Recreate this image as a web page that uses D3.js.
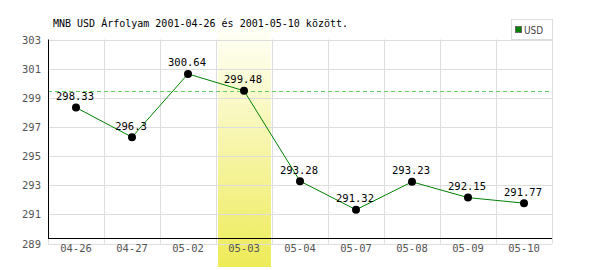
<!DOCTYPE html>
<html><head><meta charset="utf-8">
<script src="https://cdn.jsdelivr.net/npm/d3@7"></script>
<style>body{margin:0;background:#fff}</style>
</head><body>
<svg id="c" width="600" height="270"></svg>
<script>
const categories = ["04-26","04-27","05-02","05-03","05-04","05-07","05-08","05-09","05-10"];
const values = [298.33, 296.3, 300.64, 299.48, 293.28, 291.32, 293.23, 292.15, 291.77];
const labels = ["298.33","296.3","300.64","299.48","293.28","291.32","293.23","292.15","291.77"];
const yTicks = [289, 291, 293, 295, 297, 299, 301, 303];
const refValue = 299.5;
const highlightCategory = "05-03";
const title = "MNB USD Árfolyam 2001-04-26 és 2001-05-10 között.";
const seriesName = "USD";

(function () {
const svg = d3.select("#c");
const mono = "'DejaVu Sans Mono', monospace";
const pLeft = 48, pRight = 552, pTop = 39.5, pBottom = 243.5, axisY = 238.5;

const x = d3.scaleBand().domain(categories).range([pLeft, pRight]);
const y = d3.scaleLinear().domain([289, 303]).range([pBottom, pTop]);

const defs = svg.append("defs");
const g = defs.append("linearGradient").attr("id","hl").attr("x1",0).attr("y1",0).attr("x2",0).attr("y2",1);
g.append("stop").attr("offset","0%").attr("stop-color","#fffff8");
g.append("stop").attr("offset","100%").attr("stop-color","#eeeb58");

svg.append("rect")
  .attr("x", x(highlightCategory) + 2).attr("y", 28)
  .attr("width", x.bandwidth() - 3).attr("height", 239)
  .attr("fill", "url(#hl)");

svg.append("g").selectAll("line").data(yTicks).join("line")
  .attr("x1", pLeft).attr("x2", pRight)
  .attr("y1", d => Math.round(y(d)) + 0.5).attr("y2", d => Math.round(y(d)) + 0.5)
  .attr("stroke", "#dddddd");
const vx = categories.map(c => x(c) + x.bandwidth()).concat([pLeft]);
svg.append("g").selectAll("line").data(vx).join("line")
  .attr("x1", d => Math.round(d) + 0.5).attr("x2", d => Math.round(d) + 0.5)
  .attr("y1", pTop).attr("y2", pBottom)
  .attr("stroke", "#dddddd");

svg.append("line")
  .attr("x1", pLeft).attr("x2", pRight)
  .attr("y1", Math.round(y(refValue)) + 0.5).attr("y2", Math.round(y(refValue)) + 0.5)
  .attr("stroke", "#66cc66").attr("stroke-dasharray", "4,3");

svg.append("line").attr("x1", pLeft + 0.5).attr("x2", pLeft + 0.5).attr("y1", pTop).attr("y2", axisY)
  .attr("stroke", "#000");
svg.append("line").attr("x1", pLeft).attr("x2", pRight).attr("y1", axisY).attr("y2", axisY)
  .attr("stroke", "#000");

svg.append("g").selectAll("text").data(yTicks).join("text")
  .attr("x", 41).attr("y", d => y(d) + 4)
  .attr("text-anchor", "end").attr("font-family", mono).attr("font-size", 10.5)
  .attr("fill", "#555").text(d => d);

svg.append("g").selectAll("text").data(categories).join("text")
  .attr("x", d => x(d) + x.bandwidth() / 2).attr("y", 252)
  .attr("text-anchor", "middle").attr("font-family", mono).attr("font-size", 10.5)
  .attr("fill", "#555").text(d => d);

const line = d3.line().x((d, i) => x(categories[i]) + x.bandwidth() / 2).y(d => y(d));
svg.append("path").datum(values).attr("d", line)
  .attr("fill", "none").attr("stroke", "#008000").attr("stroke-width", 1);

svg.append("g").selectAll("circle").data(values).join("circle")
  .attr("cx", (d, i) => x(categories[i]) + x.bandwidth() / 2).attr("cy", d => y(d))
  .attr("r", 4).attr("fill", "#000");

svg.append("g").selectAll("text").data(values).join("text")
  .attr("x", (d, i) => x(categories[i]) + x.bandwidth() / 2 - 1).attr("y", d => y(d) - 7.5)
  .attr("text-anchor", "middle").attr("font-family", mono).attr("font-size", 10.5)
  .attr("fill", "#000").text((d, i) => labels[i]);

svg.append("text").attr("x", 53).attr("y", 26.5)
  .attr("font-family", mono).attr("font-size", 10).attr("fill", "#000").text(title);

svg.append("rect").attr("x", 511.5).attr("y", 19.5).attr("width", 41).attr("height", 20)
  .attr("fill", "#fff").attr("stroke", "#dddddd");
svg.append("rect").attr("x", 515.5).attr("y", 26.5).attr("width", 6).attr("height", 6)
  .attr("fill", "#008000").attr("stroke", "#666");
svg.append("text").attr("x", 524).attr("y", 33.5)
  .attr("font-family", "'Liberation Sans Narrow', 'DejaVu Sans Condensed', sans-serif")
  .attr("font-size", 10).attr("fill", "#444").text(seriesName);
})();
</script>
</body></html>
